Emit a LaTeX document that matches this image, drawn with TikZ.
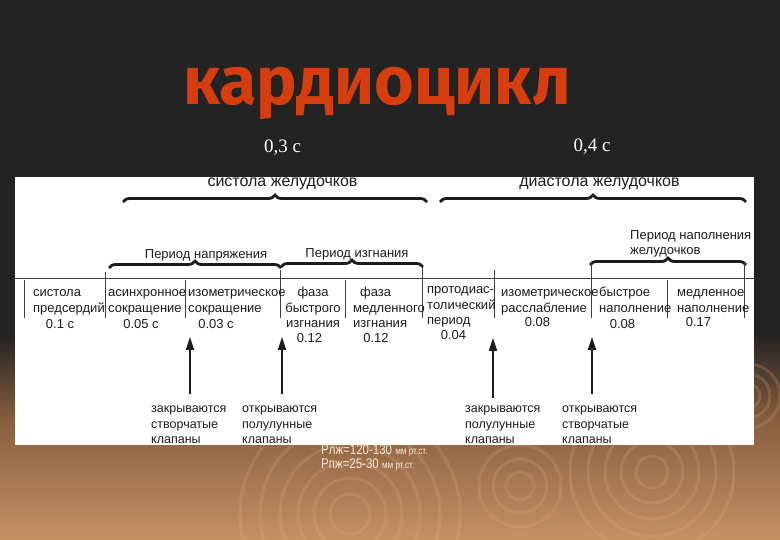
\documentclass[tikz,border=0pt]{standalone}
\usepackage{fontspec}
\setmainfont{Liberation Sans}
\newfontfamily\titlefont{Fira Sans}
\newfontfamily\numfont{Liberation Serif}
\newfontfamily\narrowfont{Liberation Sans}[FakeStretch=0.82]
\usepackage{tikz}
\usetikzlibrary{decorations.pathreplacing,arrows.meta}
\definecolor{bgdark}{RGB}{35,35,35}
\definecolor{bgmid}{RGB}{136,94,62}
\definecolor{bglight}{RGB}{198,144,100}
\definecolor{ripple}{RGB}{232,178,128}
\definecolor{titlered}{RGB}{214,62,16}
\definecolor{ink}{RGB}{28,28,28}
\definecolor{cream}{RGB}{246,232,214}

\begin{document}
\begin{tikzpicture}[x=1pt,y=-1pt,
	title/.style={anchor=base,inner sep=0pt,text=titlered,font=\titlefont\bfseries\fontsize{68}{70}\selectfont},
	phase/.style={anchor=base,inner sep=0pt,text=white,font=\numfont\fontsize{19}{22}\selectfont},
	head/.style={anchor=base,inner sep=0pt,text=ink,font=\fontsize{16}{19}\selectfont},
	period/.style={anchor=base,inner sep=0pt,text=ink,font=\fontsize{13}{14.5}\selectfont},
	cell/.style={anchor=north west,inner sep=0pt,align=left,text=ink,font=\fontsize{13}{15.5}\selectfont},
	dur/.style={anchor=base,inner sep=0pt,text=ink,font=\fontsize{13}{15.5}\selectfont},
	valve/.style={anchor=north west,inner sep=0pt,align=left,text=ink,font=\fontsize{12.5}{15.2}\selectfont},
	press/.style={anchor=base west,inner sep=0pt,text=cream,font=\narrowfont\fontsize{14}{16}\selectfont},
	bracket/.style={decorate,decoration={brace,amplitude=7pt},line width=2.8pt,ink},
	divider/.style={draw=ink!85,line width=0.9pt},
	valvearrow/.style={-{Triangle[length=13pt,width=8pt]},line width=1.8pt,ink},
	wave/.style={draw=ripple,line width=3pt,opacity=0.2}]
	\useasboundingbox (0,0) rectangle (780,540);
	\fill[bgdark] (0,0) rectangle (780,335);
	\shade[top color=bgdark,bottom color=bgmid] (0,334.5) rectangle (780,420);
	\shade[top color=bgmid,bottom color=bglight] (0,419.5) rectangle (780,540);
	\foreach \r in {20,36,52,70,90,110} \draw[wave] (350,514) circle[radius=\r pt];
	\foreach \r in {14,27,41} \draw[wave] (520,486) circle[radius=\r pt];
	\foreach \r in {16,31,47,64,82} \draw[wave] (652,472) circle[radius=\r pt];
	\foreach \r in {12,22,32} \draw[wave] (748,396) circle[radius=\r pt];

	\node[title] (title) at (377,105) {кардиоцикл};
	\node[phase] (t03) at (282.5,153) {0,3 с};
	\node[phase] (t04) at (592,151.5) {0,4 с};

	\fill[white] (15,177) rectangle (754,445);

	\node[head] (sys) at (282.5,187) {систола желудочков};
	\node[head] (dia) at (599.5,187) {диастола желудочков};
	\draw[bracket] (123,202) -- (427,202);
	\draw[bracket] (440,202) -- (746,202);

	\node[period] (pnap) at (206,259) {Период напряжения};
	\node[period] (pizg) at (357,258) {Период изгнания};
	\node[period,anchor=north west,align=left] (pnal) at (630,229.4) {\strut Период наполнения\\желудочков};
	\draw[bracket] (109,268) -- (281,268);
	\draw[bracket] (281,267) -- (423,267);
	\draw[bracket] (590,265) -- (746,265);

	\draw[divider] (15,278) -- (754,278);
	\foreach \x/\t in {24/280,105/272,185/280,280/270,345/280,422/267,494/270,591/262,667/280,744/263}
		\draw[divider] (\x,\t) -- (\x,318);

	\node[cell] (c1) at (33,285.6) {\strut систола\\предсердий};
	\node[cell] (c2) at (108,285.6) {\strut асинхронное\\сокращение};
	\node[cell] (c3) at (188,285.6) {\strut изометрическое\\сокращение};
	\node[cell,anchor=north,align=center] (c4) at (313,285.6) {\strut фаза\\быстрого\\изгнания};
	\node[cell] (c5) at (353,285.6) {\strut\hspace*{7pt}фаза\\медленного\\изгнания};
	\node[cell] (c6) at (427,282.6) {\strut протодиас-\\толический\\период};
	\node[cell] (c7) at (501,285.6) {\strut изометрическое\\расслабление};
	\node[cell] (c8) at (599,285.6) {\strut быстрое\\наполнение};
	\node[cell] (c9) at (677,285.6) {\strut медленное\\наполнение};

	\node[dur] (d1) at (60,328.5) {0.1 с};
	\node[dur] (d2) at (141,328.5) {0.05 с};
	\node[dur] (d3) at (216,328.5) {0.03 с};
	\node[dur] (d4) at (309.5,343) {0.12};
	\node[dur] (d5) at (376,343) {0.12};
	\node[dur] (d6) at (453.5,340) {0.04};
	\node[dur] (d7) at (537.5,327) {0.08};
	\node[dur] (d8) at (622.5,328.5) {0.08};
	\node[dur] (d9) at (698.5,327) {0.17};

	\coordinate (s1) at (190,394);
	\coordinate (e1) at (190,337);
	\coordinate (s2) at (282,394);
	\coordinate (e2) at (282,337);
	\coordinate (s3) at (493,398);
	\coordinate (e3) at (493,338);
	\coordinate (s4) at (592,394);
	\coordinate (e4) at (592,337);
	\draw[valvearrow] (s1) -- (e1);
	\draw[valvearrow] (s2) -- (e2);
	\draw[valvearrow] (s3) -- (e3);
	\draw[valvearrow] (s4) -- (e4);

	\node[valve] (v1) at (151,402) {\strut закрываются\\створчатые\\клапаны};
	\node[valve] (v2) at (242,402) {\strut открываются\\полулунные\\клапаны};
	\node[valve] (v3) at (465,402) {\strut закрываются\\полулунные\\клапаны};
	\node[valve] (v4) at (562,402) {\strut открываются\\створчатые\\клапаны};

	\node[press] (plv) at (321,454.5) {Рлж=120-130 {\fontsize{10}{12}\selectfont мм рт.ст.}};
	\node[press] (prv) at (321,468) {Рпж=25-30 {\fontsize{10}{12}\selectfont мм рт.ст.}};
\end{tikzpicture}
\end{document}
